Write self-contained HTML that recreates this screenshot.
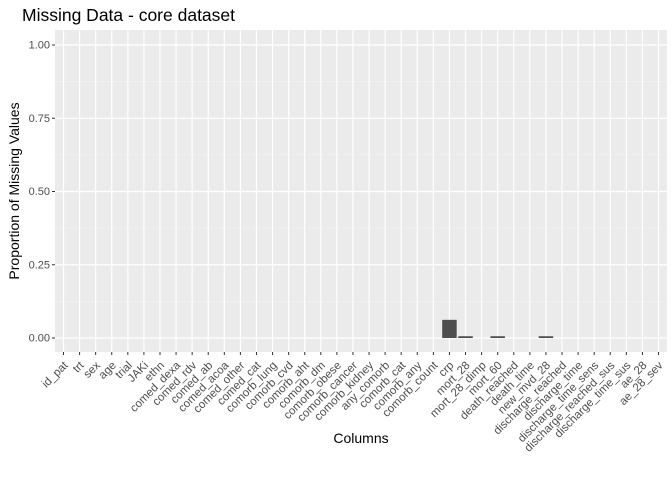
<!DOCTYPE html>
<html><head><style>
body{margin:0;background:#fff;font-family:"Liberation Sans",sans-serif}
</style></head><body>
<svg width="672" height="480" xmlns="http://www.w3.org/2000/svg" font-family="Liberation Sans, sans-serif">
<text x="22" y="21" font-size="17.5" fill="#000">Missing Data - core dataset</text>
<g id="plot"></g>
<text x="361" y="443" font-size="14" text-anchor="middle">Columns</text>
<text transform="translate(19,191) rotate(-90)" font-size="14" text-anchor="middle">Proportion of Missing Values</text>
</svg>
<script>
const columns=["id_pat","trt","sex","age","trial","JAKi","ethn","comed_dexa","comed_rdv","comed_ab","comed_acoa","comed_other","comed_cat","comorb_lung","comorb_cvd","comorb_aht","comorb_dm","comorb_obese","comorb_cancer","comorb_kidney","any_comorb","comorb_cat","comorb_any","comorb_count","crp","mort_28","mort_28_dimp","mort_60","death_reached","death_time","new_mvd_28","discharge_reached","discharge_time","discharge_time_sens","discharge_reached_sus","discharge_time_sus","ae_28","ae_28_sev"];
const missing=[0,0,0,0,0,0,0,0,0,0,0,0,0,0,0,0,0,0,0,0,0,0,0,0,0.062,0.006,0,0.006,0,0,0.006,0,0,0,0,0,0,0];
const yTicks=[0,0.25,0.5,0.75,1.0];
const yTickLabels=["0.00","0.25","0.50","0.75","1.00"];
const NS="http://www.w3.org/2000/svg";
const L=55,R=667,T=30,B=352;
const y0=338,y1=45;
const ys=v=>y0+(y1-y0)*v;
const xs=i=>L+(R-L)/2+(i-(columns.length-1)/2)*((R-L)-2*8.5)/(columns.length-1);
const g=document.getElementById('plot');
function mk(t,a){const e=document.createElementNS(NS,t);for(const k in a)e.setAttribute(k,a[k]);g.appendChild(e);return e;}
const bg=mk('rect',{x:L,y:T,width:R-L,height:B-T,fill:'#ebebeb'});


const bw=(xs(1)-xs(0))*0.9;
for(let i=0;i<yTicks.length-1;i++){const v=(yTicks[i]+yTicks[i+1])/2;
const l=mk('line',{x1:L,x2:R,y1:ys(v),y2:ys(v),stroke:'#f5f5f5','stroke-width':0.6});

}
yTicks.forEach((v,i)=>{
const l=mk('line',{x1:L,x2:R,y1:ys(v),y2:ys(v),stroke:'#fff','stroke-width':1.2});


const tk=mk('line',{x1:L-3,x2:L,y1:ys(v),y2:ys(v),stroke:'#333','stroke-width':1});


const t=mk('text',{x:L-5,y:ys(v)+3.5,'font-size':11,fill:'#4d4d4d','text-anchor':'end'});
t.textContent=yTickLabels[i];


});
columns.forEach((c,i)=>{
const x=xs(i);
const l=mk('line',{x1:x,x2:x,y1:T,y2:B,stroke:'#fff','stroke-width':1.2});


const tk=mk('line',{x1:x,x2:x,y1:B,y2:B+3,stroke:'#333','stroke-width':1});


const t=mk('text',{x:0,y:0,'font-size':11.5,fill:'#4d4d4d','text-anchor':'end',transform:`translate(${x+5},${B+14}) rotate(-45)`});
t.textContent=c;


});
columns.forEach((c,i)=>{
if(missing[i]<=0)return;
const b=mk('rect',{x:xs(i)-bw/2,y:ys(missing[i]),width:bw,height:y0-ys(missing[i]),fill:'#4d4d4d'});


});
</script>
</body></html>
